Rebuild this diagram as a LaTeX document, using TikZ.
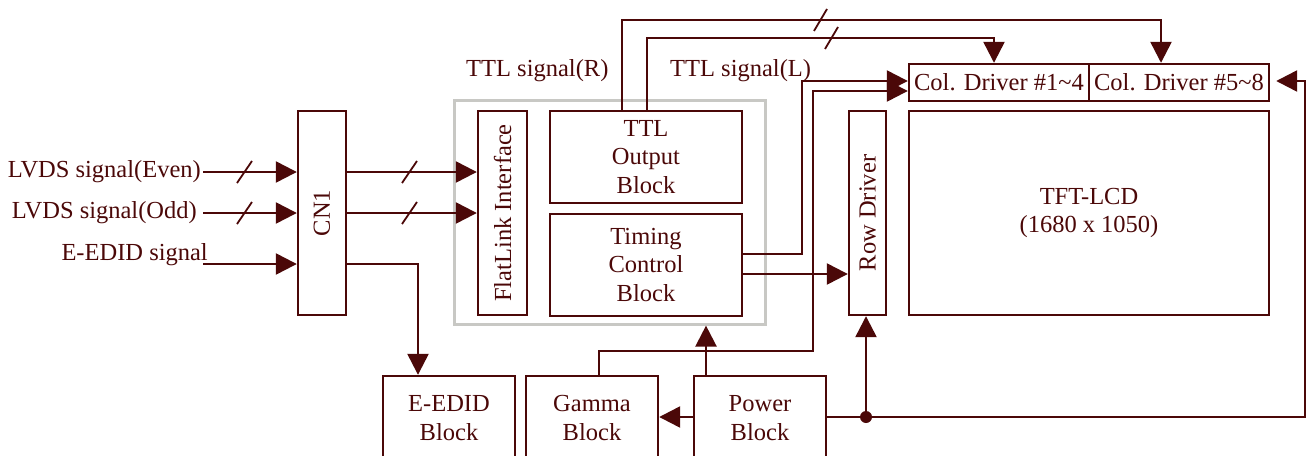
\documentclass[tikz,border=0pt]{standalone}
\usepackage{fontspec}
\setmainfont{Liberation Serif}
\usetikzlibrary{arrows.meta,calc}
\definecolor{mar}{RGB}{75,8,8}
\definecolor{gbox}{RGB}{200,200,196}
\begin{document}
\begin{tikzpicture}[x=1pt,y=-1pt,
  every node/.style={font=\fontsize{24.5}{28.5}\selectfont, text=mar},
  blk/.style={draw=mar, line width=2.4pt, rectangle, inner sep=0pt, align=center},
  wire/.style={draw=mar, line width=2.4pt},
  arr/.style={wire, -{Triangle[length=21pt,width=21pt]}},
  slash/.style={draw=mar, line width=1.8pt},
  lbl/.style={inner sep=0pt}]
\useasboundingbox (0,0) rectangle (1306,455);
\clip (0,0) rectangle (1306,455);
% frame around FlatLink / TTL / Timing
\node[draw=gbox, line width=2.2pt, minimum width=311pt, minimum height=224pt, inner sep=0pt] (gray) at (610,212.5) {};
% blocks
\node[blk, minimum width=48pt, minimum height=204pt, label={[rotate=90]center:CN1}] (cn1) at (322,213) {};
\node[blk, minimum width=49pt, minimum height=204pt, label={[rotate=90]center:FlatLink Interface}] (flat) at (502.5,213) {};
\node[blk, minimum width=192pt, minimum height=92pt] (ttl) at (646,157) {TTL\\Output\\Block};
\node[blk, minimum width=192pt, minimum height=102pt] (tcb) at (646,265) {Timing\\Control\\Block};
\node[blk, minimum width=37pt, minimum height=204pt, label={[rotate=90]center:Row Driver}] (row) at (867.5,213) {};
\node[blk, minimum width=360pt, minimum height=204pt] (tft) at (1089,213) {TFT-LCD\\(1680 x 1050)};
\node[blk, minimum width=180pt, minimum height=37pt] (col1) at (999,82.5) {Col. Driver \#1\char`~4};
\node[blk, minimum width=180pt, minimum height=37pt] (col2) at (1179,82.5) {Col. Driver \#5\char`~8};
\node[blk, minimum width=132pt, minimum height=84pt] (eedid) at (449,418) {E-EDID\\Block};
\node[blk, minimum width=132pt, minimum height=84pt] (gamma) at (592,418) {Gamma\\Block};
\node[blk, minimum width=132pt, minimum height=84pt] (power) at (760,418) {Power\\Block};
% labels
\node[lbl, anchor=east] (lEven) at (201,172) {LVDS signal(Even)};
\node[lbl, anchor=east] (lOdd) at (197,213) {LVDS signal(Odd)};
\node[lbl, anchor=base east] (lEdid) at (208,260) {E-EDID signal};
\node[lbl, anchor=west] (lR) at (466,71) {TTL signal(R)};
\node[lbl, anchor=west] (lL) at (670,71) {TTL signal(L)};
% input coordinates
\coordinate (inEven) at (203,172);
\coordinate (inOdd) at (203,213);
\coordinate (inEdid) at (203,264);
\coordinate (j) at (866,417);
% inputs to CN1
\draw[arr] (inEven) -- (cn1.west |- inEven);
\draw[arr] (inOdd) -- (cn1.west |- inOdd);
\draw[arr] (inEdid) -- (cn1.west |- inEdid);
% CN1 to FlatLink
\draw[arr] (cn1.east |- 0,172) -- (flat.west |- 0,172);
\draw[arr] (cn1.east |- 0,213) -- (flat.west |- 0,213);
% CN1 to E-EDID
\draw[arr] (cn1.east |- 0,264) -| (eedid.north -| 418,0);
% TTL to column drivers
\draw[arr] (ttl.north -| 622,0) |- (1161,20) -- (col2.north -| 1161,0);
\draw[arr] (ttl.north -| 647,0) |- (994,38) -- (col1.north -| 994,0);
% Timing to col1 and row
\draw[arr] (tcb.east |- 0,254) -| (802,81) -- (col1.west |- 0,81);
\draw[arr] (tcb.east |- 0,274) -- (row.west |- 0,274);
% Gamma to col1
\draw[arr] (gamma.north -| 599,0) |- (813,351) |- (col1.west |- 0,91);
% Power
\draw[arr] (power.west |- j) -- (gamma.east |- j);
\draw[arr] (power.north -| 706,0) -- (gray.south -| 706,0);
\draw[arr] (power.east |- j) -| (1305,81) -- ([xshift=6pt]col2.east |- 0,81);
\draw[arr] (j) -- (row.south -| j);
\fill[mar] (j) circle (6pt);
% bus slashes
\draw[slash] (237,183) -- (252,161);
\draw[slash] (237,224) -- (252,202);
\draw[slash] (402,183) -- (417,161);
\draw[slash] (402,224) -- (417,202);
\draw[slash] (814,31) -- (827,9);
\draw[slash] (825,49) -- (838,27);
\end{tikzpicture}
\end{document}
